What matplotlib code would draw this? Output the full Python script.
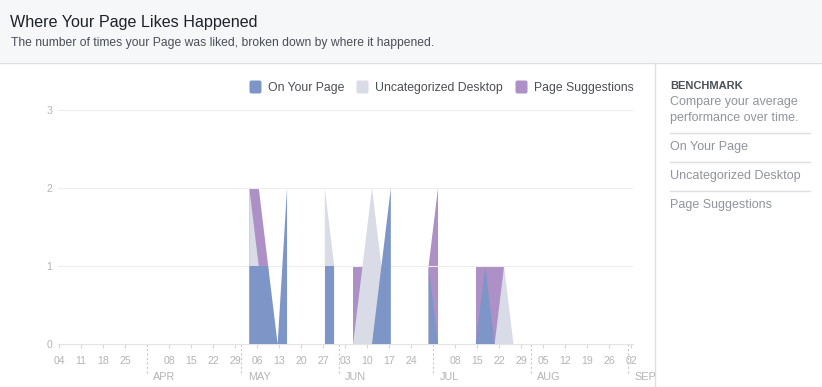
import numpy as np
import pandas as pd
import matplotlib
matplotlib.use('Agg')
import matplotlib.pyplot as plt
import matplotlib.dates as mdates
from matplotlib.patches import Rectangle, FancyBboxPatch

plt.rcParams['font.family'] = ['Liberation Sans', 'DejaVu Sans']

# points every 3 days, nan = no data (area breaks there)
dates = ['2018-05-03', '2018-05-06', '2018-05-09', '2018-05-12', '2018-05-15',
         '2018-05-18', '2018-05-21', '2018-05-24', '2018-05-27', '2018-05-30',
         '2018-06-02', '2018-06-05', '2018-06-08', '2018-06-11', '2018-06-14',
         '2018-06-17', '2018-06-20', '2018-06-23', '2018-06-26', '2018-06-29',
         '2018-07-02', '2018-07-05', '2018-07-08', '2018-07-11', '2018-07-14',
         '2018-07-17', '2018-07-20', '2018-07-23', '2018-07-26']
nan = np.nan
on_your_page = [1, 1, 1, 0, 2, nan, nan, nan, 1, 1, nan, nan, nan, 0, 1,
                2, nan, nan, nan, 1, 0, nan, nan, nan, 0, 1, 0, nan, nan]
uncategorized = [2, 1, nan, nan, nan, nan, nan, nan, 2, 1, nan, 0, 1, 2, 1,
                 0, nan, nan, nan, nan, nan, nan, nan, nan, nan, nan, 0, 1, 0]
suggestions = [2, 2, 1, nan, nan, nan, nan, nan, nan, nan, nan, 1, 1, nan, nan,
               nan, nan, nan, nan, 1, 2, nan, nan, nan, 1, 1, 1, 1, nan]

series_names = ['On Your Page', 'Uncategorized Desktop', 'Page Suggestions']
colors = ['#7d96c7', '#d9dbe6', '#ad90c5']

month_starts = ['2018-04-01', '2018-05-01', '2018-06-01', '2018-07-01', '2018-08-01', '2018-09-01']
month_labels = ['APR', 'MAY', 'JUN', 'JUL', 'AUG', 'SEP']

W, H = 822, 387
fig = plt.figure(figsize=(W / 100, H / 100), dpi=100)
fig.patch.set_facecolor('white')

# background layer in pixel coords (header, side panel, legend)
bg = fig.add_axes([0, 0, 1, 1], zorder=0)
bg.set_xlim(0, W)
bg.set_ylim(H, 0)
bg.axis('off')
bg.add_patch(Rectangle((0, 0), W, 62, color='#f6f7f9', lw=0))
bg.plot([0, W], [62.5, 62.5], color='#dddfe2', lw=1)
bg.plot([655, 655], [62.5, H], color='#dddfe2', lw=1)
for yy in [133, 162, 191]:
    bg.plot([670, 810], [yy, yy], color='#dddfe2', lw=1)

bg.text(10, 26.5, 'Where Your Page Likes Happened', fontsize=11.6, color='#1d2129', va='baseline')
bg.text(11, 46, 'The number of times your Page was liked, broken down by where it happened.',
        fontsize=8.75, color='#4b4f56', va='baseline')

bg.text(670, 89, 'BENCHMARK', fontsize=8, fontweight='bold', color='#4b4f56', va='baseline')
bg.text(670, 105.5, 'Compare your average', fontsize=9, color='#90949c', va='baseline')
bg.text(670, 120.5, 'performance over time.', fontsize=9, color='#90949c', va='baseline')
bg.text(670, 150, 'On Your Page', fontsize=9, color='#90949c', va='baseline')
bg.text(670, 179, 'Uncategorized Desktop', fontsize=9, color='#90949c', va='baseline')
bg.text(670, 208, 'Page Suggestions', fontsize=9, color='#90949c', va='baseline')

# legend
leg_x = [249.5, 356.5, 515.5]
for name, c, lx in zip(series_names, colors, leg_x):
    bg.add_patch(FancyBboxPatch((lx, 80.5), 12, 13, boxstyle='round,pad=0,rounding_size=2',
                                fc=c, ec='none'))
    bg.text(lx + 18.5, 91, name, fontsize=8.85, color='#4b4f56', va='baseline')

# chart
ax = fig.add_axes([58 / W, 43 / H, 575 / W, 234 / H], zorder=1)
ax.patch.set_alpha(0)

x = pd.to_datetime(dates) + pd.Timedelta(hours=12)
# drawn back to front: suggestions, uncategorized, on your page
for vals, c, z in [(suggestions, colors[2], 1), (uncategorized, colors[1], 2), (on_your_page, colors[0], 3)]:
    ax.fill_between(x, 0, np.array(vals, dtype=float), color=c, lw=0, zorder=z)

ax.set_xlim(pd.Timestamp('2018-03-03 16:00'), pd.Timestamp('2018-09-02 12:00'))
ax.set_ylim(0, 3)
ax.set_yticks([0, 1, 2, 3])
ax.grid(axis='y', color='#ededed', lw=0.8, zorder=0)
for s in ['top', 'right', 'left']:
    ax.spines[s].set_visible(False)
ax.spines['bottom'].set_color('#e3e3e3')
ax.spines['bottom'].set_linewidth(0.8)

# weekly ticks on sundays, except where a month starts (dashed line there instead)
sundays = pd.date_range('2018-03-04', '2018-09-02', freq='W-SUN')
sundays = sundays[sundays.day != 1]
ax.set_xticks(mdates.date2num(sundays))
ax.xaxis.set_major_formatter(mdates.DateFormatter('%d'))
ax.tick_params(axis='x', length=3, width=0.8, color='#d5d5d5', labelcolor='#b4b4b4',
               labelsize=7.6, pad=5.5)
ax.tick_params(axis='y', length=0, labelcolor='#b4b4b4', labelsize=7.6, pad=4)

trans = ax.get_xaxis_transform()
for m, lab in zip(month_starts, month_labels):
    md = mdates.date2num(pd.Timestamp(m))
    ax.plot([md, md], [0, -0.128], transform=trans, clip_on=False,
            color='#c8c8c8', lw=0.8, ls=(0, (2, 2)))
    ax.annotate(lab, xy=(md, -0.142), xycoords=trans, xytext=(4.5, 0),
                textcoords='offset points', fontsize=7.8, color='#b4b4b4',
                va='center', ha='left', annotation_clip=False)

fig.savefig('out.png', dpi=100)
